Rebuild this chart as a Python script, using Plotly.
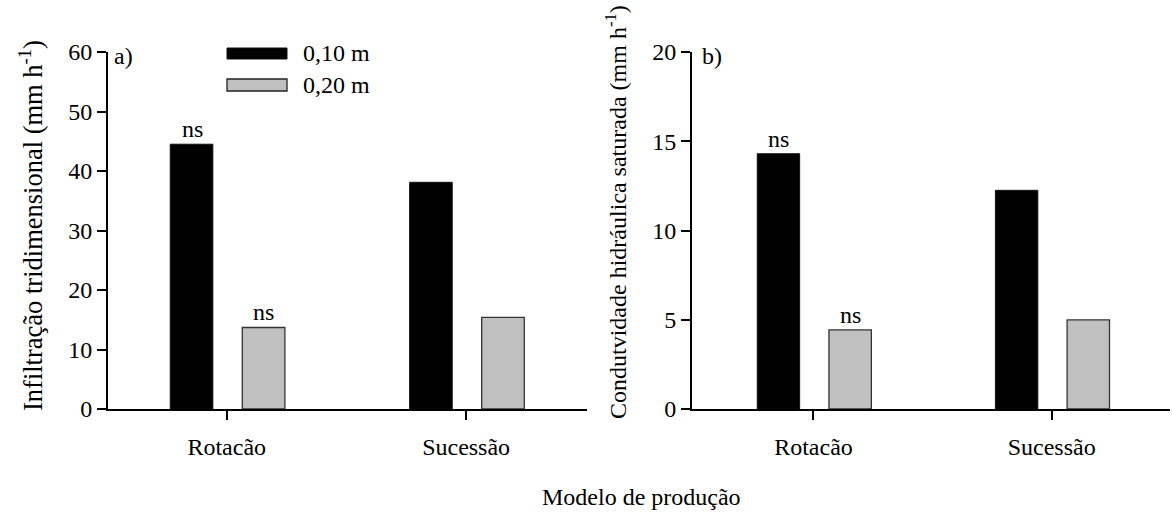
import plotly.graph_objects as go

categories = ["Rotacão", "Sucessão"]
depths = ["0,10 m", "0,20 m"]
infil_010 = [44.5, 38.1]
infil_020 = [13.7, 15.4]
ksat_010 = [14.3, 12.25]
ksat_020 = [4.43, 4.99]
infil_ticks = [0, 10, 20, 30, 40, 50, 60]
ksat_ticks = [0, 5, 10, 15, 20]
sig_a = ["ns", ""]
sig_b = ["ns", ""]

FONT = "Times New Roman, Liberation Serif, DejaVu Serif, serif"
BLACK = "#000000"
GRAY = "#c0c0c0"
FS = 24

fig = go.Figure()

def add_panel(vals10, vals20, xa, ya):
    fig.add_trace(go.Bar(x=categories, y=vals10, marker=dict(color=BLACK, line=dict(color="#111", width=1)),
                         width=0.178, offset=-0.236, xaxis=xa, yaxis=ya, showlegend=False, name=depths[0]))
    fig.add_trace(go.Bar(x=categories, y=vals20, marker=dict(color=GRAY, line=dict(color="#333", width=1.3)),
                         width=0.178, offset=0.065, xaxis=xa, yaxis=ya, showlegend=False, name=depths[1]))

add_panel(infil_010, infil_020, "x", "y")
add_panel(ksat_010, ksat_020, "x2", "y2")

axis_common = dict(showline=True, linecolor="black", linewidth=2, ticks="outside", tickwidth=2,
                   tickcolor="black", ticklen=9, showgrid=False, zeroline=False, automargin=False,
                   tickfont=dict(family=FONT, size=FS, color="black"))

fig.update_layout(
    width=1172, height=513, autosize=False,
    margin=dict(l=0, r=0, t=0, b=0, pad=0, autoexpand=False),
    plot_bgcolor="white", paper_bgcolor="white", barmode="overlay",
    font=dict(family=FONT, color="black"),
    xaxis=dict(domain=[108/1172, 587/1172], range=[-0.496, 1.505], type="category", anchor="y", **axis_common),
    yaxis=dict(domain=[(513-409)/513, (513-52)/513], range=[0, 60], tickvals=infil_ticks, anchor="x", **axis_common),
    xaxis2=dict(domain=[692/1172, 1170/1172], range=[-0.51, 1.497], type="category", anchor="y2", **axis_common),
    yaxis2=dict(domain=[(513-409)/513, (513-52)/513], range=[0, 20], tickvals=ksat_ticks, anchor="x2", **axis_common),
)

anns = []
for i, c in enumerate(categories):
    if sig_a[i]:
        anns.append(dict(x=c, y=infil_010[i], xref="x", yref="y", text=sig_a[i], showarrow=False,
                         xshift=-0.145*239, yanchor="bottom", yshift=0, font=dict(family=FONT, size=FS)))
        anns.append(dict(x=c, y=infil_020[i], xref="x", yref="y", text=sig_a[i], showarrow=False,
                         xshift=0.155*239, yanchor="bottom", yshift=0, font=dict(family=FONT, size=FS)))
    if sig_b[i]:
        anns.append(dict(x=c, y=ksat_010[i], xref="x2", yref="y2", text=sig_b[i], showarrow=False,
                         xshift=-0.145*238, yanchor="bottom", yshift=0, font=dict(family=FONT, size=FS)))
        anns.append(dict(x=c, y=ksat_020[i], xref="x2", yref="y2", text=sig_b[i], showarrow=False,
                         xshift=0.155*238, yanchor="bottom", yshift=0, font=dict(family=FONT, size=FS)))

anns.append(dict(x=112/1172, y=(513-56)/513, xref="paper", yref="paper", text="a)", showarrow=False,
                 xanchor="left", yanchor="middle", font=dict(family=FONT, size=FS)))
anns.append(dict(x=700/1172, y=(513-56)/513, xref="paper", yref="paper", text="b)", showarrow=False,
                 xanchor="left", yanchor="middle", font=dict(family=FONT, size=FS)))

anns.append(dict(x=31/1172, y=(513-226)/513, xref="paper", yref="paper", textangle=-90,
                 text="Infiltração tridimensional (mm h<sup>-1</sup>)", showarrow=False,
                 xanchor="center", yanchor="middle", font=dict(family=FONT, size=26.5)))
anns.append(dict(x=616/1172, y=(513-212)/513, xref="paper", yref="paper", textangle=-90,
                 text="Condutvidade hidráulica saturada (mm h<sup>-1</sup>)", showarrow=False,
                 xanchor="center", yanchor="middle", font=dict(family=FONT, size=24)))
anns.append(dict(x=641/1172, y=(513-497)/513, xref="paper", yref="paper",
                 text="Modelo de produção", showarrow=False,
                 xanchor="center", yanchor="middle", font=dict(family=FONT, size=FS)))

anns.append(dict(x=301/1172, y=(513-53)/513, xref="paper", yref="paper", text=depths[0], showarrow=False,
                 xanchor="left", yanchor="middle", font=dict(family=FONT, size=FS)))
anns.append(dict(x=301/1172, y=(513-85)/513, xref="paper", yref="paper", text=depths[1], showarrow=False,
                 xanchor="left", yanchor="middle", font=dict(family=FONT, size=FS)))

shapes = [
    dict(type="rect", xref="paper", yref="paper", x0=227/1172, x1=287/1172, y0=(513-59)/513, y1=(513-48)/513,
         fillcolor=BLACK, line=dict(color="#111", width=1)),
    dict(type="rect", xref="paper", yref="paper", x0=227/1172, x1=287/1172, y0=(513-91)/513, y1=(513-79)/513,
         fillcolor=GRAY, line=dict(color="#222", width=1.3)),
]

fig.update_layout(annotations=anns, shapes=shapes)
fig.update_xaxes(ticklabelstandoff=6)
fig.write_html("out.html")
